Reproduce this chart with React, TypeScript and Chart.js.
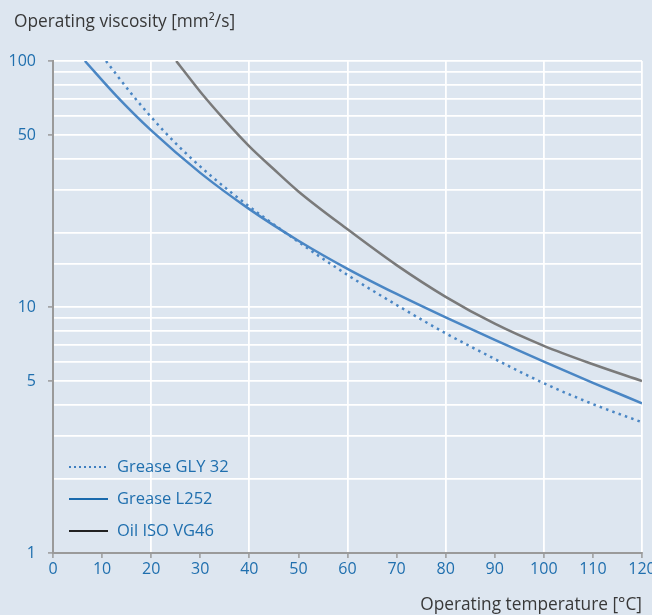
import React, { useEffect, useRef } from "react";
import { Chart, registerables } from "chart.js";

Chart.register(...registerables);

const gly32X = [10.8, 16, 22.4, 28.3, 36.4, 49, 60, 70.7, 80, 87, 100, 110, 120];
const gly32Y = [100, 73.5, 52.4, 40, 29.1, 19.0, 13.5, 10.0, 7.82, 6.6, 4.9, 4.03, 3.4];

const l252X = [6.5, 13, 20, 30, 40, 50, 60, 70, 80, 90, 100, 110, 120];
const l252Y = [100, 71.8, 52.2, 35.1, 25.0, 18.6, 14.3, 11.3, 9.07, 7.35, 6.0, 4.92, 4.06];

const oilX = [25.1, 30, 35, 40, 45, 50, 60, 70, 80, 90, 100, 110, 120];
const oilY = [100, 75, 57.5, 45, 36.3, 29.5, 20.7, 14.8, 11.0, 8.55, 6.95, 5.85, 5.0];

const seriesNames = ["Grease GLY 32", "Grease L252", "Oil ISO VG46"];
const yLabelValues = [1, 5, 10, 50, 100];
const xTitle = "Operating temperature [°C]";
const yTitle = "Operating viscosity [mm²/s]";

const BG = "rgb(221,230,240)";
const TICK_BLUE = "#1f6fae";
const FONT = "'Open Sans', 'Noto Sans', sans-serif";

const zip = (xs: number[], ys: number[]) => xs.map((x, i) => ({ x, y: ys[i] }));

export default function App() {
  const ref = useRef<HTMLCanvasElement | null>(null);

  useEffect(() => {
    document.body.style.margin = "0";
    document.body.style.background = BG;
    const canvas = ref.current;
    if (!canvas) return;

    const extras = {
      id: "extras",
      beforeDraw(chart: any) {
        const c = chart.ctx;
        c.save();
        c.fillStyle = BG;
        c.fillRect(0, 0, chart.width, chart.height);
        c.restore();
      },
      afterDraw(chart: any) {
        const c = chart.ctx;
        c.save();
        c.fillStyle = "#383838";
        c.font = `17.3px ${FONT}`;
        c.textBaseline = "alphabetic";
        c.textAlign = "left";
        c.fillText(yTitle, 14, 27);
        const rows = [
          { y: 467, color: "#3f7fc0", dash: [2, 3], name: seriesNames[0] },
          { y: 499, color: "#1a6aad", dash: [], name: seriesNames[1] },
          { y: 531, color: "#222222", dash: [], name: seriesNames[2] },
        ];
        rows.forEach((r) => {
          c.beginPath();
          c.strokeStyle = r.color;
          c.lineWidth = 2.2;
          c.setLineDash(r.dash);
          c.moveTo(69, r.y);
          c.lineTo(108, r.y);
          c.stroke();
          c.setLineDash([]);
          c.fillStyle = TICK_BLUE;
          c.font = `16.5px ${FONT}`;
          c.textBaseline = "middle";
          c.fillText(r.name, 117, r.y);
        });
        c.restore();
      },
    };

    const chart = new Chart(canvas, {
      type: "scatter",
      data: {
        datasets: [
          {
            label: seriesNames[0],
            data: zip(gly32X, gly32Y),
            showLine: true,
            borderColor: "#4a86c4",
            borderWidth: 2.5,
            borderDash: [2.5, 4.2],
            pointRadius: 0,
            cubicInterpolationMode: "monotone",
            fill: false,
          },
          {
            label: seriesNames[1],
            data: zip(l252X, l252Y),
            showLine: true,
            borderColor: "#4a86c4",
            borderWidth: 2.5,
            pointRadius: 0,
            cubicInterpolationMode: "monotone",
            fill: false,
          },
          {
            label: seriesNames[2],
            data: zip(oilX, oilY),
            showLine: true,
            borderColor: "#7a7a7a",
            borderWidth: 2.5,
            pointRadius: 0,
            cubicInterpolationMode: "monotone",
            fill: false,
          },
        ],
      },
      options: {
        responsive: false,
        animation: false,
        layout: { autoPadding: false, padding: { top: 61, right: 10, left: 0, bottom: 0 } },
        plugins: { legend: { display: false }, tooltip: { enabled: false }, title: { display: false } },
        scales: {
          x: {
            type: "linear",
            min: 0,
            max: 120,
            afterFit: (s: any) => {
              s.height = 62;
              s.paddingLeft = 0;
              s.paddingRight = 0;
            },
            border: { color: "#9a9a9a", width: 2 },
            grid: {
              color: (ctx: any) => (ctx.tick && ctx.tick.value % 20 === 0 ? "#ffffff" : "rgba(0,0,0,0)"),
              lineWidth: 1.8,
              tickColor: "#9a9a9a",
              tickLength: 5,
              tickWidth: 1.5,
            },
            ticks: {
              stepSize: 10,
              color: TICK_BLUE,
              font: { family: FONT, size: 16 },
              padding: 2,
              maxRotation: 0,
              autoSkip: false,
            },
            title: {
              display: true,
              text: xTitle,
              align: "end",
              color: "#383838",
              font: { family: FONT, size: 17.3 },
              padding: { top: 0, bottom: 0 },
            },
          },
          y: {
            type: "logarithmic",
            min: 1,
            max: 100,
            afterFit: (s: any) => {
              s.width = 53;
              s.paddingTop = 0;
              s.paddingBottom = 0;
            },
            border: { color: "#9a9a9a", width: 2 },
            grid: {
              color: "#ffffff",
              lineWidth: 1.8,
              tickColor: (ctx: any) =>
                ctx.tick && yLabelValues.includes(Math.round(ctx.tick.value * 1000) / 1000) ? "#9a9a9a" : "rgba(0,0,0,0)",
              tickLength: 5,
              tickWidth: 1.5,
            },
            ticks: {
              color: TICK_BLUE,
              font: { family: FONT, size: 16 },
              padding: 12,
              autoSkip: false,
              callback: (v: any) => {
                const n = Math.round(Number(v) * 1000) / 1000;
                return yLabelValues.includes(n) ? String(n) : "";
              },
            },
          },
        },
      },
      plugins: [extras],
    } as any);

    return () => chart.destroy();
  }, []);

  return (
    <div style={{ position: "absolute", left: 0, top: 0, width: 652, height: 615, background: BG }}>
      <canvas ref={ref} width={652} height={615} style={{ display: "block" }} />
    </div>
  );
}
